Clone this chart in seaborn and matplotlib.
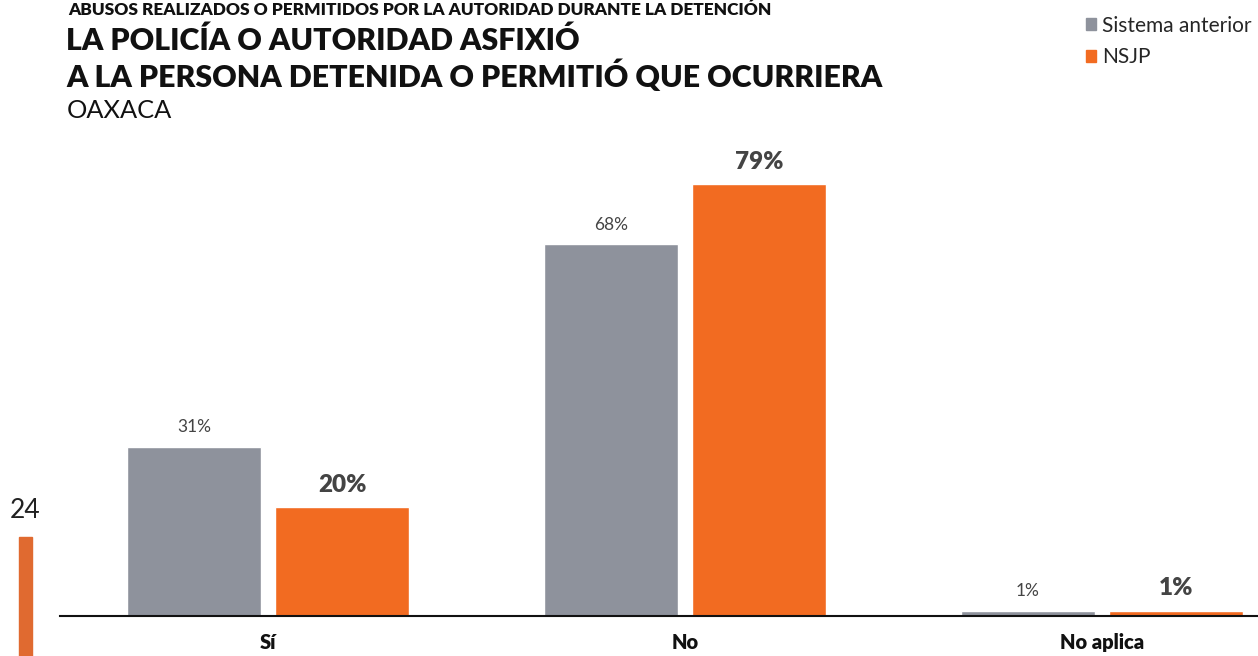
import matplotlib
matplotlib.use("Agg")
import matplotlib.pyplot as plt
import matplotlib.patches as mpatches
import pandas as pd
import seaborn as sns

# data
categories = ["Sí", "No", "No aplica"]
sistema_anterior = [31, 68, 1]
nsjp = [20, 79, 1]
series_names = ["Sistema anterior", "NSJP"]
colors = ["#8e929c", "#f26b21"]

df = pd.DataFrame({
    "categoria": categories * 2,
    "sistema": [series_names[0]] * 3 + [series_names[1]] * 3,
    "valor": sistema_anterior + nsjp,
})

sns.set_style("white")
plt.rcParams["font.family"] = ["Lato", "DejaVu Sans"]

fig = plt.figure(figsize=(12.58, 6.56), dpi=100)
ax = fig.add_axes([60 / 1258, 40 / 656, 1198 / 1258, 486 / 656])

sns.barplot(data=df, x="categoria", y="valor", hue="sistema", palette=colors,
            width=0.71, gap=0.095, ax=ax, legend=False, saturation=1)

ax.set_xlim(-0.499, 2.374)
ax.set_ylim(0, 88.9)
ax.set_yticks([])
ax.set_xlabel("")
ax.set_ylabel("")
for s in ["top", "right", "left"]:
    ax.spines[s].set_visible(False)
ax.spines["bottom"].set_color("#111111")
ax.spines["bottom"].set_linewidth(1.5)
ax.tick_params(axis="x", length=0, pad=12)
for lbl in ax.get_xticklabels():
    lbl.set_fontsize(14.5)
    lbl.set_fontweight("heavy")
    lbl.set_color("#111111")

# value labels
gray_bars = ax.containers[0]
orange_bars = ax.containers[1]
for bar, v in zip(gray_bars, sistema_anterior):
    ax.annotate(f"{v}%", (bar.get_x() + bar.get_width() / 2, bar.get_height()),
                xytext=(0, 8), textcoords="offset points", ha="center", va="bottom",
                fontsize=12.5, color="#444444")
for bar, v in zip(orange_bars, nsjp):
    ax.annotate(f"{v}%", (bar.get_x() + bar.get_width() / 2, bar.get_height()),
                xytext=(0, 8), textcoords="offset points", ha="center", va="bottom",
                fontsize=17.5, fontweight="heavy", color="#444444")

# titles
fig.text(68 / 1258, 1 - 10 / 656, "ABUSOS REALIZADOS O PERMITIDOS POR LA AUTORIDAD DURANTE LA DETENCIÓN",
         fontsize=12.4, fontweight="heavy", color="#111111", va="center")
fig.text(66 / 1258, 1 - 41 / 656, "LA POLICÍA O AUTORIDAD ASFIXIÓ",
         fontsize=21.8, fontweight="heavy", color="#111111", va="center")
fig.text(66 / 1258, 1 - 76 / 656, "A LA PERSONA DETENIDA O PERMITIÓ QUE OCURRIERA",
         fontsize=21.8, fontweight="heavy", color="#111111", va="center")
fig.text(67 / 1258, 1 - 110 / 656, "OAXACA", fontsize=18.3, color="#111111", va="center")

# legend
handles = [mpatches.Patch(color=c, label=n) for c, n in zip(colors, series_names)]
fig.legend(handles=handles, loc="upper right", bbox_to_anchor=(1.005, 0.995),
           frameon=False, fontsize=15, handlelength=0.5, handleheight=0.5,
           handletextpad=0.3, labelspacing=0.55, borderaxespad=0.2)

# stray marker on the left edge
fig.text(25 / 1258, 1 - 511 / 656, "24", fontsize=19, color="#222222", ha="center", va="center")
fig.patches.append(mpatches.Rectangle((19 / 1258, 0), 13 / 1258, 119 / 656,
                                      transform=fig.transFigure, color="#e06a30"))

fig.savefig("out.png", dpi=100)
